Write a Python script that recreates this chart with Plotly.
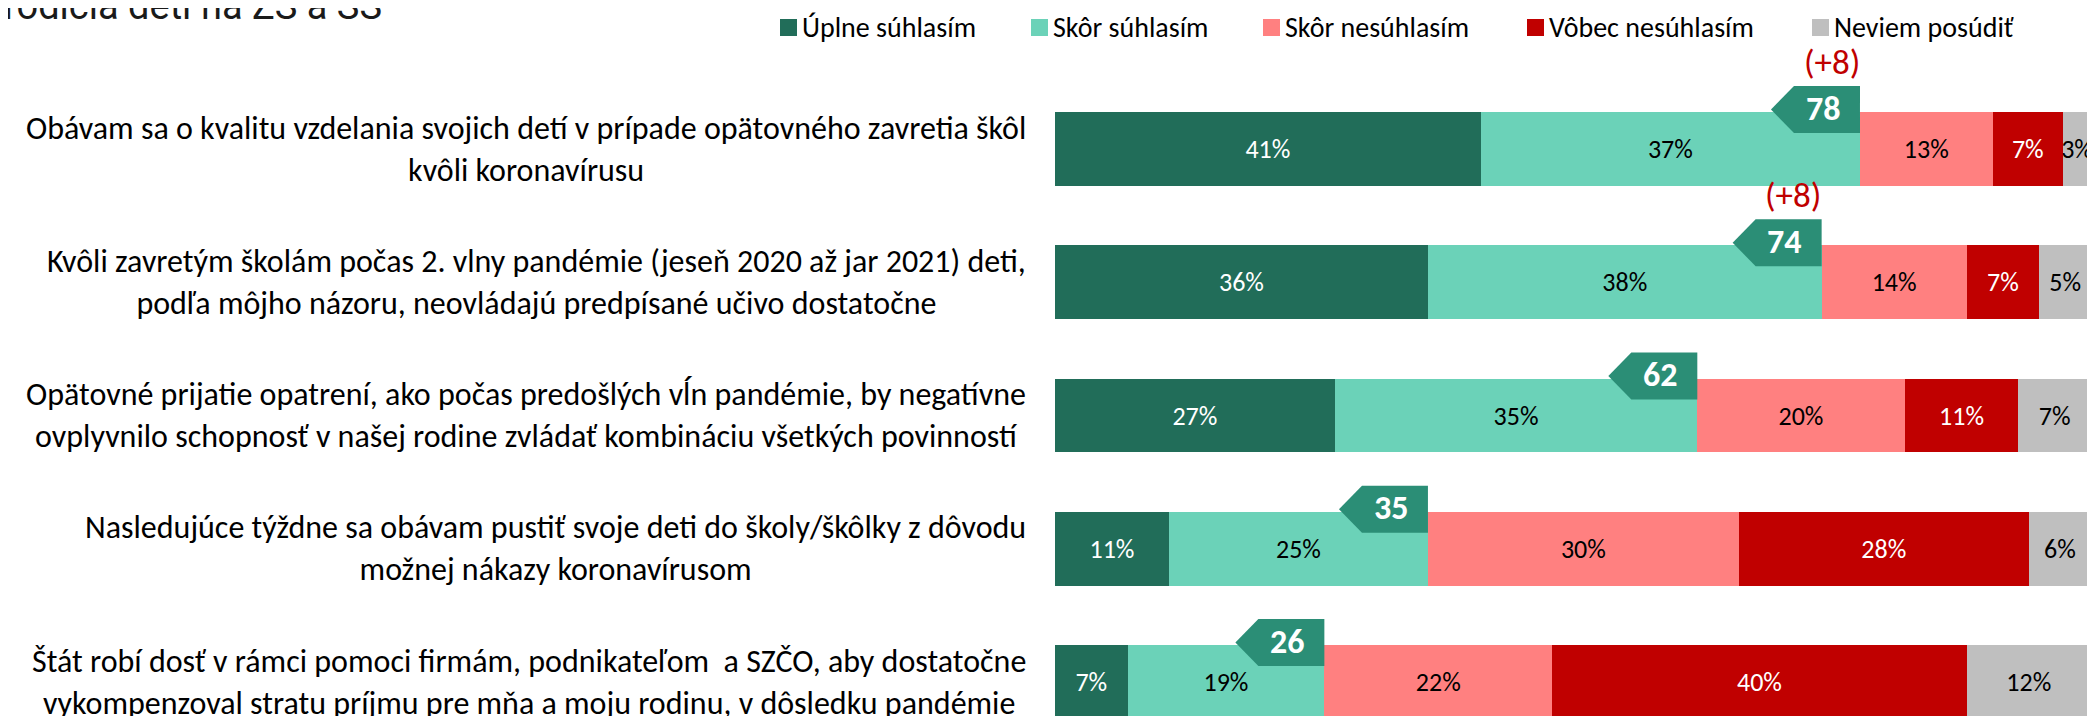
import plotly.graph_objects as go

# ---------------- data ----------------
categories = [
    "Obávam sa o kvalitu vzdelania svojich detí v prípade opätovného zavretia škôl<br>kvôli koronavírusu",
    "Kvôli zavretým školám počas 2. vlny pandémie (jeseň 2020 až jar 2021) deti,<br>podľa môjho názoru, neovládajú predpísané učivo dostatočne",
    "Opätovné prijatie opatrení, ako počas predošlých vĺn pandémie, by negatívne<br>ovplyvnilo schopnosť v našej rodine zvládať kombináciu všetkých povinností",
    "Nasledujúce týždne sa obávam pustiť svoje deti do školy/škôlky z dôvodu<br>možnej nákazy koronavírusom",
    "Štát robí dosť v rámci pomoci firmám, podnikateľom\u00a0 a SZČO, aby dostatočne<br>vykompenzoval stratu príjmu pre mňa a moju rodinu, v dôsledku pandémie",
]
series_names = ["Úplne súhlasím", "Skôr súhlasím", "Skôr nesúhlasím", "Vôbec nesúhlasím", "Neviem posúdiť"]
# segment lengths (labels show the rounded values)
uplne_suhlasim = [41.1, 36, 27, 11, 7]
skor_suhlasim = [36.6, 38, 35, 25, 19]
skor_nesuhlasim = [12.8, 14, 20, 30, 22]
vobec_nesuhlasim = [6.8, 7, 11, 28, 40]
neviem_posudit = [2.7, 5, 7, 6, 12]
agree_total = [78, 74, 62, 35, 26]
agree_change = ["(+8)", "(+8)", "", "", ""]
title_text = "rodičia detí na ZŠ a SŠ"

# ---------------- style ----------------
series_values = [uplne_suhlasim, skor_suhlasim, skor_nesuhlasim, vobec_nesuhlasim, neviem_posudit]
colors = ["#216D59", "#6BD2B8", "#FF8080", "#C00000", "#BFBFBF"]
text_colors = ["white", "black", "black", "white", "black"]
FONT = "Calibri, Carlito, Lato, sans-serif"

OFF = 8                      # default page margin of the html body
PAGE_W, PAGE_H = 2095, 716
W, H = PAGE_W - OFF, PAGE_H - OFF
PLOT_L, PLOT_R = 1055, 2091  # page pixels of plot area
ML = PLOT_L - OFF
MR = W - (PLOT_R - OFF)
PW = W - ML - MR
BAR_W = 0.555
ROW0, ROWSTEP = 149.0, 133.25  # page px of first row centre, row spacing
Y_TOP = (OFF - ROW0) / ROWSTEP
Y_BOT = (PAGE_H - ROW0) / ROWSTEP

ypos = list(range(len(categories)))

fig = go.Figure()
for name, vals, col, tcol in zip(series_names, series_values, colors, text_colors):
    fig.add_trace(go.Bar(
        name=name, orientation="h", x=vals, y=ypos, width=BAR_W,
        marker=dict(color=col, line=dict(width=0)),
        text=[f"{v:.0f}%" for v in vals], textposition="inside", insidetextanchor="middle",
        constraintext="none", textangle=0,
        textfont=dict(family=FONT, size=26, color=tcol),
        cliponaxis=False,
        showlegend=False, hovertemplate=name + ": %{x}%<extra></extra>",
    ))


def px_x(p):
    return (p - OFF - ML) / PW


def px_y(p):
    return 1 - (p - OFF) / H


shapes = []
annotations = []

# callouts with agree totals (right edge at the end of the agree segments)
agree_end = [u + s for u, s in zip(uplne_suhlasim, skor_suhlasim)]
for k, (a, lab, ch) in enumerate(zip(agree_end, agree_total, agree_change)):
    top, bot, mid = k - 0.473, k - 0.12, k - 0.296
    path = (f"M {a},{top} L {a},{bot} L {a-6.37},{bot} L {a-8.59},{mid} "
            f"L {a-6.37},{top} Z")
    shapes.append(dict(type="path", path=path, xref="x", yref="y",
                       fillcolor="#2B8E76", line=dict(width=0), layer="above"))
    annotations.append(dict(x=a - 3.6, y=mid - 0.01, xref="x", yref="y", text=f"<b>{lab}</b>",
                            showarrow=False, xanchor="center", yanchor="middle",
                            font=dict(family=FONT, size=34, color="white")))
    if ch:
        annotations.append(dict(x=a + 0.15, y=k - 0.655, xref="x", yref="y", text=ch,
                                showarrow=False, xanchor="right", yanchor="middle",
                                font=dict(family=FONT, size=35, color="#C00000")))

# category labels
for k, cat in enumerate(categories):
    annotations.append(dict(x=px_x(1028), y=k, xref="paper", yref="y", text=cat,
                            showarrow=False, xanchor="right", yanchor="middle", align="center",
                            font=dict(family=FONT, size=32, color="black")))

# legend (manual)
legend_sq_x = [780, 1031, 1263, 1527, 1812]
for sx, name, col in zip(legend_sq_x, series_names, colors):
    shapes.append(dict(type="rect", xref="paper", yref="paper",
                       x0=px_x(sx), x1=px_x(sx + 17), y0=px_y(36), y1=px_y(19),
                       fillcolor=col, line=dict(width=0)))
    annotations.append(dict(x=px_x(sx + 20), y=px_y(27), xref="paper", yref="paper", text=name,
                            showarrow=False, xanchor="left", yanchor="middle",
                            font=dict(family=FONT, size=28, color="black")))

# title (cut off at top in the original too)
annotations.append(dict(x=px_x(2), y=px_y(30), xref="paper", yref="paper", text=title_text,
                        showarrow=False, xanchor="left", yanchor="bottom",
                        font=dict(family="Roboto, sans-serif", size=38, color="#1a1a1a")))

fig.update_layout(
    width=W, height=H,
    margin=dict(l=ML, r=MR, t=0, b=0, pad=0),
    barmode="stack",
    paper_bgcolor="white", plot_bgcolor="white",
    xaxis=dict(range=[0, 100], visible=False, fixedrange=True),
    yaxis=dict(range=[Y_BOT, Y_TOP], visible=False, fixedrange=True),
    shapes=shapes, annotations=annotations,
    showlegend=False,
)

fig.write_html("out.html")
